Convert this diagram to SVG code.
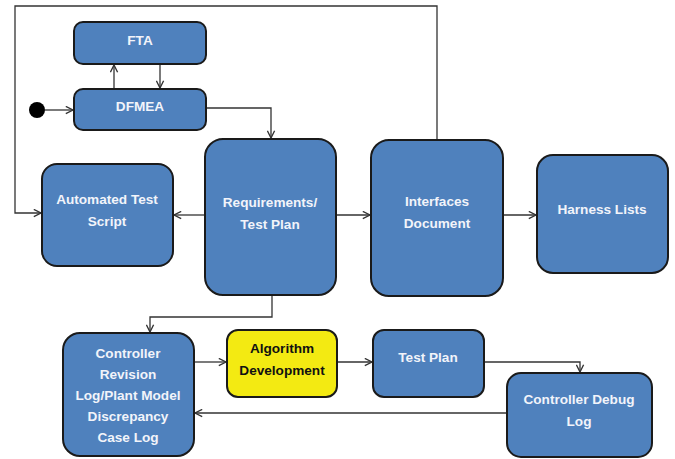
<svg xmlns="http://www.w3.org/2000/svg" width="675" height="459" viewBox="0 0 675 459">
<style>
.box{fill:#4F81BD;stroke:#1a1a1a;stroke-width:2}
.yel{fill:#F3EA12;stroke:#1a1a1a;stroke-width:2}
.t{font-family:"Liberation Sans",Arial,sans-serif;font-weight:bold;font-size:13.6px;fill:#F2F4FA;text-anchor:middle}
.tk{fill:#111}
.c{fill:none;stroke:#333;stroke-width:1.3}
</style>
<defs>
<marker id="a" viewBox="0 0 10 10" refX="9" refY="5" markerWidth="9" markerHeight="9" markerUnits="userSpaceOnUse" orient="auto">
<path d="M1,1 L9,5 L1,9" fill="none" stroke="#333" stroke-width="1.5"/>
</marker>
</defs>
<g id="connectors">
<circle cx="37" cy="110" r="8" fill="#000"/>
<path class="c" d="M45,110 H73" marker-end="url(#a)"/>
<path class="c" d="M114,89 V65" marker-end="url(#a)"/>
<path class="c" d="M160,64 V88" marker-end="url(#a)"/>
<path class="c" d="M206,108 H271 V138" marker-end="url(#a)"/>
<path class="c" d="M437,140 V6 H15 V213 H41" marker-end="url(#a)"/>
<path class="c" d="M205,215 H174" marker-end="url(#a)"/>
<path class="c" d="M336,215 H370" marker-end="url(#a)"/>
<path class="c" d="M503,215 H536" marker-end="url(#a)"/>
<path class="c" d="M272,295 V317 H150 V332" marker-end="url(#a)"/>
<path class="c" d="M194,362 H226" marker-end="url(#a)"/>
<path class="c" d="M337,362 H372" marker-end="url(#a)"/>
<path class="c" d="M484,362 H580 V372" marker-end="url(#a)"/>
<path class="c" d="M507,413 H195" marker-end="url(#a)"/>
</g>
<g id="fta"><rect class="box" x="74" y="22" width="132" height="42" rx="9"/><text class="t" x="140" y="45">FTA</text></g>
<g id="dfmea"><rect class="box" x="74" y="89" width="132" height="41" rx="9"/><text class="t" x="140" y="111">DFMEA</text></g>
<g id="automated"><rect class="box" x="42" y="164" width="131" height="102" rx="15"/><text class="t" x="107" y="204">Automated Test</text><text class="t" x="107" y="226">Script</text></g>
<g id="requirements"><rect class="box" x="205" y="139" width="131" height="156" rx="18"/><text class="t" x="270" y="207">Requirements/</text><text class="t" x="270" y="229">Test Plan</text></g>
<g id="interfaces"><rect class="box" x="371" y="140" width="132" height="156" rx="18"/><text class="t" x="437" y="206">Interfaces</text><text class="t" x="437" y="228">Document</text></g>
<g id="harness"><rect class="box" x="537" y="155" width="131" height="118" rx="16"/><text class="t" x="602" y="214">Harness Lists</text></g>
<g id="controller-revision"><rect class="box" x="63" y="333" width="131" height="123" rx="17"/>
<text class="t" x="128" y="358">Controller</text><text class="t" x="128" y="379">Revision</text><text class="t" x="128" y="400">Log/Plant Model</text><text class="t" x="128" y="421">Discrepancy</text><text class="t" x="128" y="442">Case Log</text></g>
<g id="algorithm"><rect class="yel" x="227" y="330" width="110" height="67" rx="11"/><text class="t tk" x="282" y="353">Algorithm</text><text class="t tk" x="282" y="375">Development</text></g>
<g id="test-plan"><rect class="box" x="373" y="330" width="111" height="67" rx="11"/><text class="t" x="428" y="362">Test Plan</text></g>
<g id="controller-debug"><rect class="box" x="507" y="373" width="145" height="84" rx="14"/><text class="t" x="579" y="404">Controller Debug</text><text class="t" x="579" y="426">Log</text></g>
</svg>
